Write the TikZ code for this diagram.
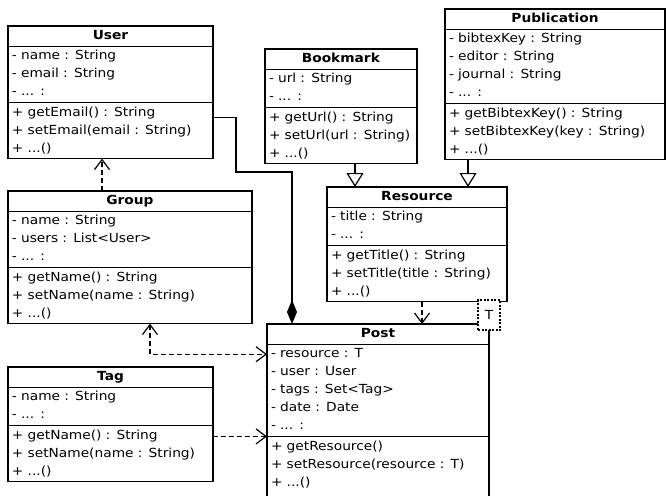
\documentclass[tikz,border=0pt]{standalone}
\usepackage{fontspec}
\setmainfont{DejaVu Sans}[FakeStretch=1.1]
\usetikzlibrary{shapes.multipart,arrows.meta}
\tikzset{
  umlclass/.style={draw,line width=1.2pt,fill=white,rectangle split,rectangle split parts=3,
    anchor=north west,outer sep=0pt,inner xsep=4pt,inner ysep=0.5pt,align=left,
    font=\fontsize{12.5}{18}\selectfont},
  dep/.style={line width=1.2pt,dash pattern=on 5pt off 3pt,-{Straight Barb[length=10pt,width=15pt]}},
  depboth/.style={dep,{Straight Barb[length=10pt,width=15pt]}-{Straight Barb[length=10pt,width=15pt]}},
  inherit/.style={line width=1.2pt,-{Triangle[open,length=14pt,width=17pt,fill=white]}},
  compo/.style={line width=1.2pt,-{Diamond[length=24pt,width=10pt]}},
  tparam/.style={draw,line width=1.2pt,dash pattern=on 2pt off 1.5pt,fill=white,inner sep=0pt,
    outer sep=0pt,minimum width=22pt,minimum height=30pt,anchor=south,
    font=\fontsize{12.5}{18}\selectfont}
}
\newcommand{\ctitle}[1]{\hbox to\hsize{\hfil\textbf{#1}\strut\hfil}}
\begin{document}
\begin{tikzpicture}[x=1pt,y=-1pt]
  \useasboundingbox (0,0) rectangle (666,495);
  \clip (0,0) rectangle (666,495);
  \node[umlclass,text width=197pt] (user) at (8,26) {\ctitle{User}
    \nodepart{second}\strut- name : String\\- email : String\\- ... :\strut
    \nodepart{third}\strut+ getEmail() : String\\+ setEmail(email : String)\\+ ...()\strut};
  \node[umlclass,text width=144pt] (bookmark) at (265,49) {\ctitle{Bookmark}
    \nodepart{second}\strut- url : String\\- ... :\strut
    \nodepart{third}\strut+ getUrl() : String\\+ setUrl(url : String)\\+ ...()\strut};
  \node[umlclass,text width=212pt] (publication) at (445,9) {\ctitle{Publication}
    \nodepart{second}\strut- bibtexKey : String\\- editor : String\\- journal : String\\- ... :\strut
    \nodepart{third}\strut+ getBibtexKey() : String\\+ setBibtexKey(key : String)\\+ ...()\strut};
  \node[umlclass,text width=172pt] (resource) at (327,187) {\ctitle{Resource}
    \nodepart{second}\strut- title : String\\- ... :\strut
    \nodepart{third}\strut+ getTitle() : String\\+ setTitle(title : String)\\+ ...()\strut};
  \node[umlclass,text width=236pt] (group) at (8,191) {\ctitle{Group}
    \nodepart{second}\strut- name : String\\- users : List<User>\\- ... :\strut
    \nodepart{third}\strut+ getName() : String\\+ setName(name : String)\\+ ...()\strut};
  \node[umlclass,text width=197pt] (tag) at (8,367) {\ctitle{Tag}
    \nodepart{second}\strut- name : String\\- ... :\strut
    \nodepart{third}\strut+ getName() : String\\+ setName(name : String)\\+ ...()\strut};
  \node[umlclass,text width=214pt] (post) at (267,324) {\ctitle{Post}
    \nodepart{second}\strut- resource : T\\- user : User\\- tags : Set<Tag>\\- date : Date\\- ... :\strut
    \nodepart{third}\strut+ getResource()\\+ setResource(resource : T)\\+ ...()\\\strut};
  \node[tparam] (tpar) at ([yshift=-6pt]post.north east) {T};
  \coordinate (bend) at (236,172);
  \draw[dep] ([xshift=-28pt]group.north) -- ([xshift=-28pt]group.north |- user.south);
  \draw[compo] ([yshift=-15pt]user.two split east) -| (bend) -| ([xshift=25pt]post.north west);
  \draw[inherit] ([xshift=28pt]resource.north west |- bookmark.south) -- ([xshift=28pt]resource.north west);
  \draw[inherit] ([xshift=-39pt]resource.north east |- publication.south) -- ([xshift=-39pt]resource.north east);
  \draw[dep] ([xshift=5pt]resource.south) -- ([xshift=5pt]resource.south |- post.north);
  \draw[depboth] ([xshift=20pt]group.south) |- ([yshift=-10pt]post.text split west);
  \draw[dep] (post.two split west -| tag.east) -- (post.two split west);
\end{tikzpicture}
\end{document}
